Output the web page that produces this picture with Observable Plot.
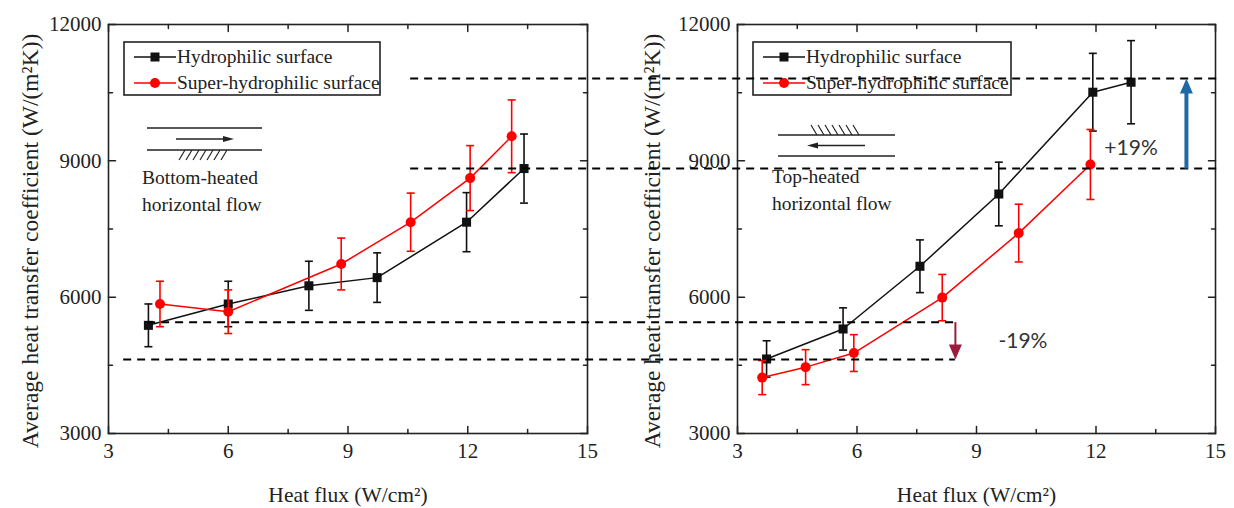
<!DOCTYPE html>
<html>
<head>
<meta charset="utf-8">
<script src="https://cdn.jsdelivr.net/npm/d3@7"></script>
<script src="https://cdn.jsdelivr.net/npm/@observablehq/plot@0.6"></script>
<style>
  html, body { margin: 0; padding: 0; background: #fff; }
  #fig { position: relative; width: 1234px; height: 508px; overflow: hidden; background: #fff; }
  #fig > svg { position: absolute; left: 0; top: 0; }
</style>
</head>
<body>
<div id="fig"></div>
<script>
// ---- data -------------------------------------------------------------
const fluxTicks = [3, 6, 9, 12, 15];
const fluxMinorTicks = [4.5, 7.5, 10.5, 13.5];
const htcTicks = [3000, 6000, 9000, 12000];
const htcMinorTicks = [4500, 7500, 10500];
const seriesNames = ["Hydrophilic surface", "Super-hydrophilic surface"];
const panelNotes = [["Bottom-heated", "horizontal flow"], ["Top-heated", "horizontal flow"]];
const xTitle = "Heat flux (W/cm²)";
const yTitle = "Average heat transfer coefficient (W/(m²K))";

// bottom-heated horizontal flow
const bottomHydroFlux = [4.0, 6.0, 8.02, 9.73, 11.97, 13.41];
const bottomHydroHTC  = [5380, 5850, 6250, 6430, 7650, 8830];
const bottomHydroErr  = [470, 500, 540, 545, 650, 760];
const bottomSuperFlux = [4.29, 6.0, 8.83, 10.57, 12.06, 13.1];
const bottomSuperHTC  = [5850, 5680, 6730, 7650, 8620, 9540];
const bottomSuperErr  = [500, 480, 570, 640, 715, 800];

// top-heated horizontal flow
const topHydroFlux = [3.73, 5.65, 7.58, 9.56, 11.92, 12.88];
const topHydroHTC  = [4640, 5300, 6680, 8270, 10510, 10730];
const topHydroErr  = [400, 465, 580, 700, 855, 915];
const topSuperFlux = [3.62, 4.71, 5.92, 8.14, 10.06, 11.86];
const topSuperHTC  = [4230, 4460, 4770, 5990, 7410, 8920];
const topSuperErr  = [375, 385, 405, 510, 635, 770];

// dashed comparison levels, running from the bottom-heated panel into the top-heated one
const guideLevels      = [10810, 8830, 5450, 4630];
const guideStartBottom = [10.57, 10.57, 3.98, 3.38]; // heat flux in the bottom-heated panel
const guideEndTop      = [15.12, 15.12, 8.47, 8.47]; // heat flux in the top-heated panel
const riseFlux = 14.27;
const changeLabels = ["+19%", "-19%"];
const changeLabelFlux = [12.21, 9.55];
const changeLabelHTC = [9270, 5020];

// ---- layout & style ---------------------------------------------------
const W = 1234, H = 508;
const margin = {top: 24, bottom: 75};
const leftPanel = {marginLeft: 108, marginRight: W - 587, yTitleDx: -78};
const rightPanel = {marginLeft: 737, marginRight: W - 1215, yTitleDx: -85};
const ink = "#222";
const serif = "'Liberation Serif', 'Times New Roman', serif";
const hydroColor = "#111";
const superColor = "#ff0000";
const riseColor = "#1f6aa5";
const dropColor = "#9e1a3c";

const tickShape = {draw(c, l) { c.moveTo(0, 0); c.lineTo(0, -l); }};
const capSymbol = {draw(c, size) { const w = Math.sqrt(size / Math.PI); c.moveTo(-w, 0); c.lineTo(w, 0); }};

function frameTicks() {
  const base = {anchor: "start", shape: tickShape, stroke: ink, strokeWidth: 1.5};
  const out = [];
  for (const [ticks, len] of [[fluxTicks, 7], [fluxMinorTicks, 4]]) {
    out.push(Plot.vector(ticks, {...base, x: d => d, frameAnchor: "bottom", length: len, rotate: 0}));
    out.push(Plot.vector(ticks, {...base, x: d => d, frameAnchor: "top", length: len, rotate: 180}));
  }
  for (const [ticks, len] of [[htcTicks, 7], [htcMinorTicks, 4]]) {
    out.push(Plot.vector(ticks, {...base, y: d => d, frameAnchor: "left", length: len, rotate: 90}));
    out.push(Plot.vector(ticks, {...base, y: d => d, frameAnchor: "right", length: len, rotate: 270}));
  }
  return out;
}

function seriesMarks(flux, htc, err, color, symbol, r) {
  const rows = flux.map((x, i) => ({x, y: htc[i], e: err[i]}));
  return [
    Plot.line(rows, {x: "x", y: "y", stroke: color, strokeWidth: 1.5}),
    Plot.ruleX(rows, {x: "x", y1: d => d.y - d.e, y2: d => d.y + d.e, stroke: color, strokeWidth: 1.6}),
    Plot.dot(rows, {x: "x", y: d => d.y - d.e, symbol: capSymbol, r: 4, fill: "none", stroke: color, strokeWidth: 1.6}),
    Plot.dot(rows, {x: "x", y: d => d.y + d.e, symbol: capSymbol, r: 4, fill: "none", stroke: color, strokeWidth: 1.6}),
    Plot.dot(rows, {x: "x", y: "y", symbol, r, fill: color, stroke: "none"})
  ];
}

function panel(p, hydro, sup, extra = []) {
  return Plot.plot({
    width: W, height: H,
    marginLeft: p.marginLeft, marginRight: p.marginRight,
    marginTop: margin.top, marginBottom: margin.bottom,
    x: {domain: [3, 15]},
    y: {domain: [3000, 12000]},
    style: {fontFamily: serif, fontSize: "19.5px", color: ink, background: "transparent", overflow: "visible"},
    marks: [
      Plot.frame({stroke: ink, strokeWidth: 1.6}),
      ...frameTicks(),
      Plot.axisX({ticks: fluxTicks, tickSize: 0, tickPadding: 10, fontSize: 21, label: null, tickFormat: d => String(d)}),
      Plot.axisY({ticks: htcTicks, tickSize: 0, tickPadding: 7, fontSize: 21, label: null, tickFormat: d => String(d)}),
      Plot.text([xTitle], {frameAnchor: "bottom", dy: 62, fontSize: 21.5, textAnchor: "middle", lineAnchor: "middle"}),
      Plot.text([yTitle], {frameAnchor: "left", dx: p.yTitleDx, dy: 12, rotate: -90, fontSize: 23.5, textAnchor: "middle", lineAnchor: "middle"}),
      ...seriesMarks(hydro[0], hydro[1], hydro[2], hydroColor, "square", 5.1),
      ...seriesMarks(sup[0], sup[1], sup[2], superColor, "circle", 5),
      ...extra
    ]
  });
}

// mapping bottom-heated flux onto the top-heated panel's horizontal scale
const sBottom = Plot.scale({x: {domain: [3, 15], range: [leftPanel.marginLeft, W - leftPanel.marginRight]}});
const sTop = Plot.scale({x: {domain: [3, 15], range: [rightPanel.marginLeft, W - rightPanel.marginRight]}});
const toTopFlux = x => sTop.invert(sBottom.apply(x));

const guides = guideLevels.map((level, i) => ({level, from: toTopFlux(guideStartBottom[i]), to: guideEndTop[i]}));
const arrows = [
  {x: riseFlux, y1: guideLevels[1], y2: guideLevels[0], color: riseColor, width: 4, rotate: 0, head: 15, r: 6.5},
  {x: guideEndTop[2], y1: guideLevels[2], y2: guideLevels[3], color: dropColor, width: 2, rotate: 180, head: 15, r: 6.5}
];
const labels = changeLabels.map((text, i) => ({text, x: changeLabelFlux[i], y: changeLabelHTC[i]}));

const annotations = [
  Plot.ruleY(guides, {y: "level", x1: "from", x2: "to", stroke: "#000", strokeWidth: 2, strokeDasharray: "8,6"}),
  ...arrows.map(a => Plot.arrow([a], {x1: "x", x2: "x", y1: "y1", y2: "y2", stroke: a.color, strokeWidth: a.width, headLength: 0, insetEnd: a.head - 3, strokeLinecap: "butt"})),
  ...arrows.map(a => Plot.vector([a], {x: "x", y: "y2", rotate: a.rotate, length: a.head, r: a.r, anchor: "end", shape: "spike", fill: a.color, stroke: "none"})),
  Plot.text(labels, {x: "x", y: "y", text: "text", textAnchor: "start", fontFamily: "Lato, 'Open Sans', sans-serif", fontSize: 21, fill: "#333", lineAnchor: "middle"})
];

const leftSvg = panel(leftPanel,
  [bottomHydroFlux, bottomHydroHTC, bottomHydroErr],
  [bottomSuperFlux, bottomSuperHTC, bottomSuperErr]);
const rightSvg = panel(rightPanel,
  [topHydroFlux, topHydroHTC, topHydroErr],
  [topSuperFlux, topSuperHTC, topSuperErr], annotations);

// ---- legends and flow sketches ---------------------------------------
const deco = d3.create("svg").attr("width", W).attr("height", H)
  .style("font-family", serif).style("font-size", "19.5px");

function legend(x0, y0, w) {
  const g = deco.append("g").attr("transform", `translate(${x0},${y0})`);
  g.append("rect").attr("width", w).attr("height", 53).attr("fill", "#fff").attr("stroke", ink).attr("stroke-width", 1.6);
  const rows = [
    {name: seriesNames[0], color: hydroColor, square: true, cy: 15},
    {name: seriesNames[1], color: superColor, square: false, cy: 41}
  ];
  for (const r of rows) {
    g.append("line").attr("x1", 10).attr("x2", 52).attr("y1", r.cy).attr("y2", r.cy).attr("stroke", r.color).attr("stroke-width", 1.5);
    if (r.square) g.append("rect").attr("x", 31 - 4.5).attr("y", r.cy - 4.5).attr("width", 9).attr("height", 9).attr("fill", r.color);
    else g.append("circle").attr("cx", 31).attr("cy", r.cy).attr("r", 5).attr("fill", r.color);
    g.append("text").attr("x", 53).attr("y", r.cy).attr("dy", "0.33em").attr("fill", ink).text(r.name);
  }
}
legend(124, 42, 256);
legend(753, 42, 258);

function flowSketch(x0, x1, yTop, yBot, arrowFrom, arrowTo, hatchFrom, hatchTo, hatchBelow, note, noteX, noteY) {
  const g = deco.append("g").attr("stroke", "#222").attr("stroke-width", 1.5);
  g.append("line").attr("x1", x0).attr("x2", x1).attr("y1", yTop).attr("y2", yTop);
  g.append("line").attr("x1", x0).attr("x2", x1).attr("y1", yBot).attr("y2", yBot);
  const ya = (yTop + yBot) / 2;
  const dir = Math.sign(arrowTo - arrowFrom);
  g.append("line").attr("x1", arrowFrom).attr("x2", arrowTo - dir * 8).attr("y1", ya).attr("y2", ya);
  g.append("path").attr("d", `M${arrowTo},${ya}L${arrowTo - dir * 11},${ya - 3}L${arrowTo - dir * 11},${ya + 3}Z`).attr("fill", "#222").attr("stroke", "none");
  const yEdge = hatchBelow ? yBot : yTop;
  const yFar = hatchBelow ? yBot + 10 : yTop - 10;
  for (let x = hatchFrom; x <= hatchTo - 6; x += 7) {
    g.append("line").attr("x1", x).attr("y1", yFar).attr("x2", x + 6).attr("y2", yEdge).attr("stroke-width", 1.2);
  }
  const t = deco.append("text").attr("x", noteX).attr("y", noteY).attr("fill", ink);
  t.append("tspan").attr("x", noteX).text(note[0]);
  t.append("tspan").attr("x", noteX).attr("dy", 27).text(note[1]);
}
flowSketch(147, 262, 128, 150, 176, 234, 179, 231, true, panelNotes[0], 142, 184);
flowSketch(778, 895, 135, 156, 865, 807, 811, 863, false, panelNotes[1], 772, 183);

const fig = document.getElementById("fig");
fig.append(leftSvg, deco.node(), rightSvg);
</script>
</body>
</html>
